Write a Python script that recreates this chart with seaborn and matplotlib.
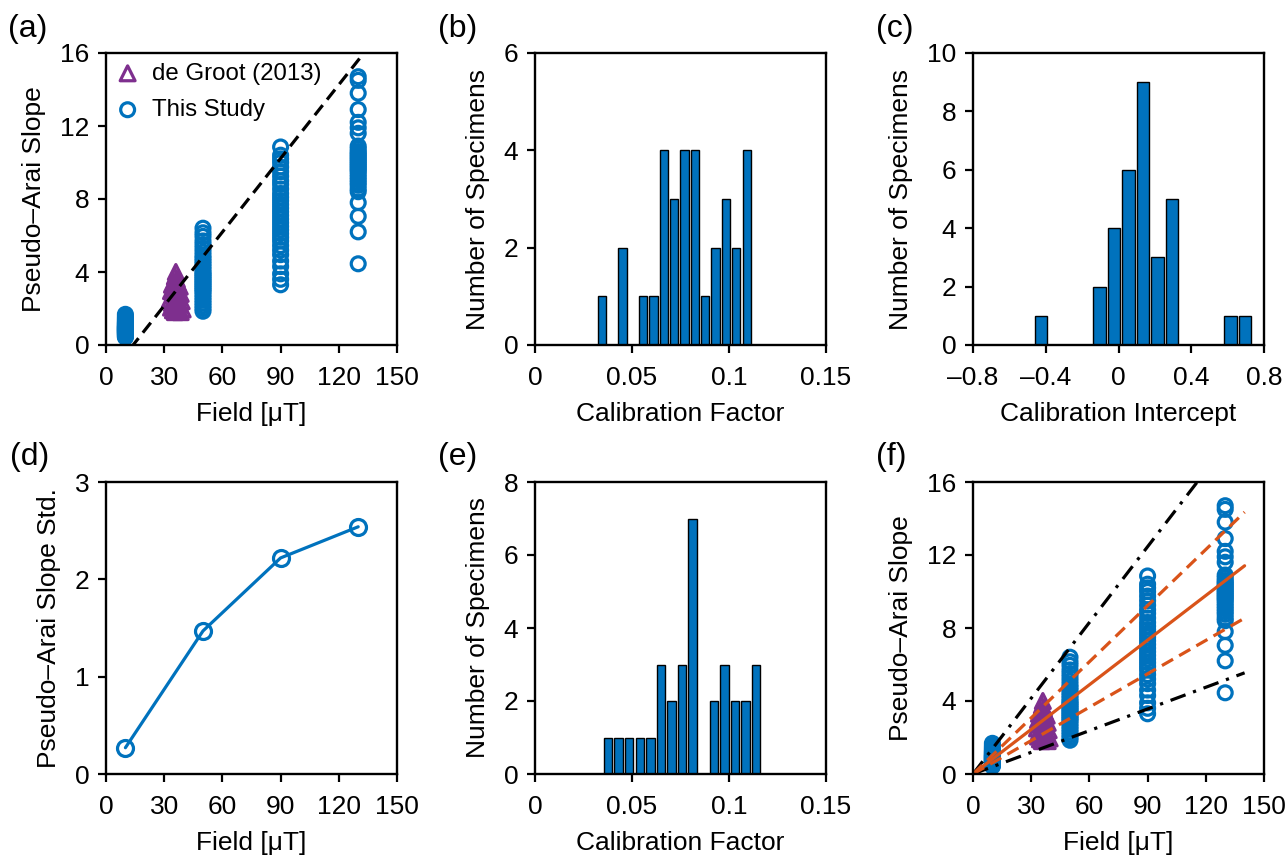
import numpy as np
import pandas as pd
import matplotlib
matplotlib.use("Agg")
import matplotlib.pyplot as plt
import seaborn as sns

BLUE = "#0072BD"
PURPLE = "#7E2F8E"
ORANGE = "#D95319"

# ---- Pseudo-Arai slopes measured in this study, one list per field (uT)
fields = [10, 50, 90, 130]
slopes_10 = [0.42, 0.47, 0.52, 0.56, 0.60, 0.63, 0.66, 0.69, 0.72, 0.75, 0.77,
             0.80, 0.82, 0.85, 0.87, 0.90, 0.92, 0.95, 0.98, 1.00, 1.03, 1.06,
             1.10, 1.14, 1.18, 1.22, 1.27, 1.33, 1.40, 1.47, 1.56, 1.68]
slopes_50 = [6.40, 6.15, 5.95, 5.70, 5.50, 5.30, 5.10, 4.90, 4.75, 4.60, 4.45,
             4.30, 4.15, 4.00, 3.90, 3.80, 3.70, 3.60, 3.50, 3.40, 3.30, 3.20,
             3.10, 3.00, 2.90, 2.75, 2.60, 2.45, 2.30, 2.15, 2.00, 1.85]
slopes_90 = [10.85, 10.40, 10.20, 10.00, 9.75, 9.50, 9.25, 9.00, 8.80, 8.55,
             8.30, 8.10, 7.90, 7.70, 7.50, 7.30, 7.10, 6.90, 6.70, 6.50, 6.30,
             6.10, 5.90, 5.70, 5.45, 5.20, 4.95, 4.60, 4.30, 3.90, 3.60, 3.30]
slopes_130 = [14.70, 14.50, 13.80, 12.90, 12.20, 11.90, 11.60, 10.90, 10.75,
              10.60, 10.50, 10.40, 10.30, 10.20, 10.10, 10.00, 9.90, 9.80, 9.70,
              9.60, 9.50, 9.35, 9.20, 9.05, 8.90, 8.75, 8.55, 8.40, 7.80, 7.05,
              6.20, 4.45]

# ---- de Groot (2013) specimens
dg_field = [36.0, 35.5, 36.5, 35.0, 37.0, 34.0, 36.0, 38.0, 35.0, 37.0, 33.5,
            36.0, 38.5, 34.5, 37.5, 35.5, 33.0, 36.5, 39.0, 34.0, 38.0, 35.0,
            37.0, 33.5, 36.0, 39.5, 34.5, 37.5, 35.5, 38.5]
dg_slope = [4.00, 3.75, 3.60, 3.45, 3.40, 3.30, 3.30, 3.20, 3.10, 3.00, 2.95,
            2.90, 2.80, 2.70, 2.65, 2.60, 2.50, 2.45, 2.40, 2.30, 2.25, 2.20,
            2.10, 2.05, 2.00, 1.95, 1.90, 1.85, 1.80, 1.80]

# ---- (a) linear fit through the field/slope cloud
fit_a = {"slope": 0.1345, "intercept": -1.88}
fit_a_x = [0, 131]

# ---- (b) calibration factor histogram
cf_b_centers = [0.0344, 0.0397, 0.0451, 0.0504, 0.0557, 0.0611, 0.0664, 0.0718,
                0.0771, 0.0824, 0.0878, 0.0931, 0.0984, 0.1038, 0.1091]
cf_b_counts = [1, 0, 2, 0, 1, 1, 4, 3, 4, 4, 1, 2, 3, 2, 4]

# ---- (c) calibration intercept histogram
ci_centers = [-0.425, -0.345, -0.265, -0.185, -0.105, -0.025, 0.055, 0.135,
              0.215, 0.295, 0.375, 0.455, 0.535, 0.615, 0.695]
ci_counts = [1, 0, 0, 0, 2, 4, 6, 9, 3, 5, 0, 0, 0, 1, 1]

# ---- (d) standard deviation of the slopes per field
std_fields = [10, 50, 90, 130]
std_values = [0.27, 1.47, 2.22, 2.54]

# ---- (e) calibration factor histogram (zero intercept)
cf_e_centers = [0.0377, 0.0431, 0.0486, 0.0540, 0.0595, 0.0649, 0.0704, 0.0758,
                0.0813, 0.0867, 0.0922, 0.0976, 0.1031, 0.1085, 0.1140]
cf_e_counts = [1, 1, 1, 1, 1, 3, 2, 3, 7, 0, 2, 3, 2, 2, 3]

# ---- (f) lines through the origin
f_x = [0, 140]
f_black_slopes = [0.1384, 0.0396]
f_orange_mid = 0.0815
f_orange_bounds = [0.1025, 0.0610]

sns.set_theme(style="ticks")
plt.rcParams["font.family"] = ["Liberation Sans", "DejaVu Sans"]
plt.rcParams["axes.unicode_minus"] = False
for key in ("text.color", "axes.labelcolor", "xtick.color", "ytick.color",
            "axes.edgecolor"):
    plt.rcParams[key] = "black"

FS = 19
W, H = 1288, 856
fig = plt.figure(figsize=(W / 100, H / 100), dpi=100)


def make_ax(left, top, width=291, height=292):
    return fig.add_axes([left / W, 1 - (top + height) / H, width / W, height / H])


def style(ax, xlim, xticks, xlabels, ylim, yticks, xlabel, ylabel):
    ax.set_xlim(*xlim)
    ax.set_ylim(*ylim)
    ax.set_xticks(xticks)
    ax.set_xticklabels(xlabels)
    ax.set_yticks(yticks)
    ax.set_yticklabels([f"{t:g}" for t in yticks])
    ax.tick_params(direction="out", length=6, width=1.6, top=False, right=False,
                   labelsize=FS, colors="black")
    ax.tick_params(axis="x", pad=9)
    ax.tick_params(axis="y", pad=6)
    for s in ax.spines.values():
        s.set_visible(True)
        s.set_linewidth(1.7)
        s.set_color("black")
    ax.set_xlabel(xlabel, fontsize=FS, labelpad=9, color="black")
    ax.set_ylabel(ylabel, fontsize=FS, labelpad=10, color="black")
    ax.set_facecolor("white")


def slope_frame():
    return pd.DataFrame({
        "field": np.repeat(fields, [len(slopes_10), len(slopes_50),
                                    len(slopes_90), len(slopes_130)]),
        "slope": slopes_10 + slopes_50 + slopes_90 + slopes_130,
    })


def scatter_panel(ax, labelled):
    sns.scatterplot(x=dg_field, y=dg_slope, marker="^", s=115,
                    facecolor="none", edgecolor=PURPLE, linewidth=2.3,
                    label="de Groot (2013)" if labelled else None, ax=ax)
    df = slope_frame()
    sns.scatterplot(data=df, x="field", y="slope", marker="o", s=100,
                    facecolor="none", edgecolor=BLUE, linewidth=2.3,
                    label="This Study" if labelled else None, ax=ax)


def hist_panel(ax, centers, counts, shrink):
    c = np.asarray(centers, dtype=float)
    w = float(np.mean(np.diff(c)))
    edges = [float(v) for v in np.append(c - w / 2, c[-1] + w / 2)]
    df = pd.DataFrame({"value": c, "count": counts})
    sns.histplot(data=df, x="value", weights="count", bins=edges,
                 shrink=shrink, color=BLUE, edgecolor="black", linewidth=1.0,
                 alpha=1, ax=ax)


field_ticks = [0, 30, 60, 90, 120, 150]
field_lbl = "Field [μT]"
slope_lbl = "Pseudo–Arai Slope"
cf_ticks = [0, 0.05, 0.1, 0.15]
cf_labels = ["0", "0.05", "0.1", "0.15"]

# (a)
ax = make_ax(106, 53)
scatter_panel(ax, True)
xa = np.array(fit_a_x, dtype=float)
sns.lineplot(x=xa, y=fit_a["slope"] * xa + fit_a["intercept"], color="black",
             lw=2.3, ls=(0, (4, 2.2)), ax=ax)
style(ax, (0, 150), field_ticks, [str(t) for t in field_ticks], (0, 16),
      [0, 4, 8, 12, 16], field_lbl, slope_lbl)
ax.legend(loc="upper left", frameon=False, fontsize=17.3, borderaxespad=0.1,
          borderpad=0.3, handlelength=1.0, handletextpad=0.5,
          labelspacing=0.6, markerscale=1.0)

# (b)
ax = make_ax(535, 53)
hist_panel(ax, cf_b_centers, cf_b_counts, 0.8)
style(ax, (0, 0.15), cf_ticks, cf_labels, (0, 6), [0, 2, 4, 6],
      "Calibration Factor", "Number of Specimens")

# (c)
ax = make_ax(973, 53)
hist_panel(ax, ci_centers, ci_counts, 0.85)
style(ax, (-0.8, 0.8), [-0.8, -0.4, 0, 0.4, 0.8],
      ["–0.8", "–0.4", "0", "0.4", "0.8"], (0, 10), [0, 2, 4, 6, 8, 10],
      "Calibration Intercept", "Number of Specimens")

# (d)
ax = make_ax(106, 482)
sns.lineplot(x=std_fields, y=std_values, color=BLUE, lw=2.3, marker="o",
             markersize=11.5, markerfacecolor="none", markeredgecolor=BLUE,
             markeredgewidth=2.3, ax=ax)
style(ax, (0, 150), field_ticks, [str(t) for t in field_ticks], (0, 3),
      [0, 1, 2, 3], field_lbl, "Pseudo–Arai Slope Std.")

# (e)
ax = make_ax(535, 482)
hist_panel(ax, cf_e_centers, cf_e_counts, 0.8)
style(ax, (0, 0.15), cf_ticks, cf_labels, (0, 8), [0, 2, 4, 6, 8],
      "Calibration Factor", "Number of Specimens")

# (f)
ax = make_ax(973, 482)
scatter_panel(ax, False)
xf = np.array(f_x, dtype=float)
for m in f_black_slopes:
    sns.lineplot(x=xf, y=m * xf, color="black", lw=2.3,
                 ls=(0, (5, 2.5, 1, 2.5)), ax=ax)
for m in f_orange_bounds:
    sns.lineplot(x=xf, y=m * xf, color=ORANGE, lw=2.3, ls=(0, (4, 2.2)), ax=ax)
sns.lineplot(x=xf, y=f_orange_mid * xf, color=ORANGE, lw=2.3, ax=ax)
style(ax, (0, 150), field_ticks, [str(t) for t in field_ticks], (0, 16),
      [0, 4, 8, 12, 16], field_lbl, slope_lbl)

# panel letters
for letter, (px, py) in zip("abcdef", [(8, 29), (438, 29), (876, 29),
                                       (10, 457), (438, 457), (876, 457)]):
    fig.text(px / W, 1 - py / H, f"({letter})", fontsize=23,
             ha="left", va="center", color="black")

fig.savefig("out.png", dpi=100, facecolor="white")
